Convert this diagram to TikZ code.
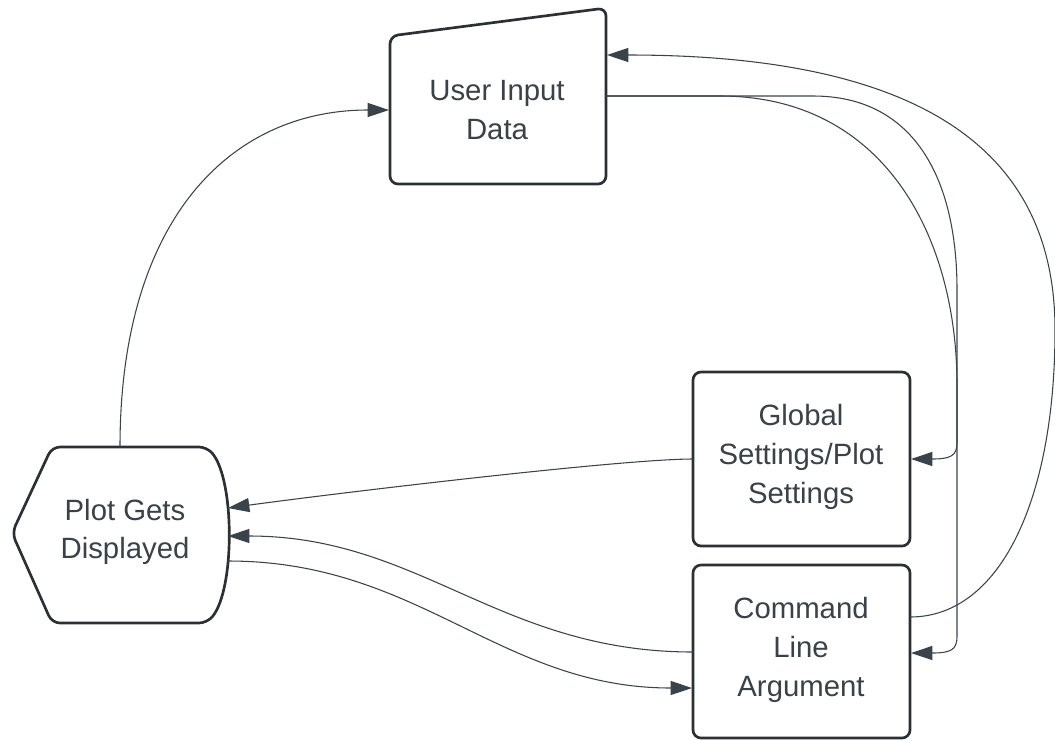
\documentclass[tikz,border=0pt]{standalone}
\usepackage{fontspec}
\setmainfont{Liberation Sans}
\usetikzlibrary{arrows.meta}
\definecolor{edgecol}{HTML}{3A4349}
\definecolor{boxcol}{HTML}{2B3035}
\definecolor{txtcol}{HTML}{3A4147}
\begin{document}
\begin{tikzpicture}[x=0.75pt,y=-0.75pt,
  shapeline/.style={draw=boxcol,line width=2pt,fill=white,rounded corners=6pt},
  txt/.style={text=txtcol,align=center,font=\fontsize{22}{29}\selectfont},
  conn/.style={draw=edgecol,line width=0.8pt},
  tip/.style={-{Triangle[length=16pt,width=10.5pt]},draw=edgecol,line width=0.8pt,color=edgecol}]
\useasboundingbox (0,0) rectangle (1055,740);

% shapes
\path[shapeline] (390,36) -- (606,8) -- (606,184) -- (390,184) -- cycle;
\path[shapeline] (12,533) -- (52,447) -- (207,447) .. controls (235,480) and (235,590) .. (207,623) -- (52,623) -- cycle;
\path[shapeline] (693,372) rectangle (910,546);
\path[shapeline] (693,565) rectangle (910,738);

% labels
\node[txt] (uid) at (497,110) {User Input\\Data};
\node[txt] (plot) at (125,532) {Plot Gets\\Displayed};
\node[txt] (glob) at (801,457) {Global\\Settings/Plot\\Settings};
\node[txt] (cmd) at (801,650) {Command\\Line\\Argument};

% connection points
\coordinate (plot-top) at (120,447);
\coordinate (plot-in1) at (228,508);
\coordinate (plot-in2) at (228,536);
\coordinate (plot-out) at (228,561);
\coordinate (uid-in) at (389,110);
\coordinate (uid-in2) at (607,55);
\coordinate (uid-out) at (606,96);
\coordinate (glob-in) at (911,459);
\coordinate (glob-out) at (693,459);
\coordinate (cmd-in) at (911,653);
\coordinate (cmd-in2) at (692,688);
\coordinate (cmd-out) at (910,617);
\coordinate (cmd-out2) at (693,652);

% connectors
\draw[tip] (plot-top) .. controls (120,220) and (230,110) .. (uid-in);
\draw[tip] (uid-out) -- (720,96) .. controls (880,96) and (955,230) .. (957,380)
  -- (957,443) .. controls (957,456) and (950,459) .. (glob-in);
\draw[tip] (uid-out) -- (813,96) .. controls (915,96) and (957,180) .. (957,290)
  -- (957,637) .. controls (957,650) and (950,653) .. (cmd-in);
\draw[tip] (cmd-out) .. controls (1000,617) and (1055,500) .. (1055,330)
  .. controls (1055,170) and (950,55) .. (uid-in2);
\draw[tip] (glob-out) .. controls (620,459) and (330,494) .. (plot-in1);
\draw[tip] (cmd-out2) .. controls (500,652) and (420,536) .. (plot-in2);
\draw[tip] (plot-out) .. controls (420,561) and (500,688) .. (cmd-in2);
\end{tikzpicture}
\end{document}
